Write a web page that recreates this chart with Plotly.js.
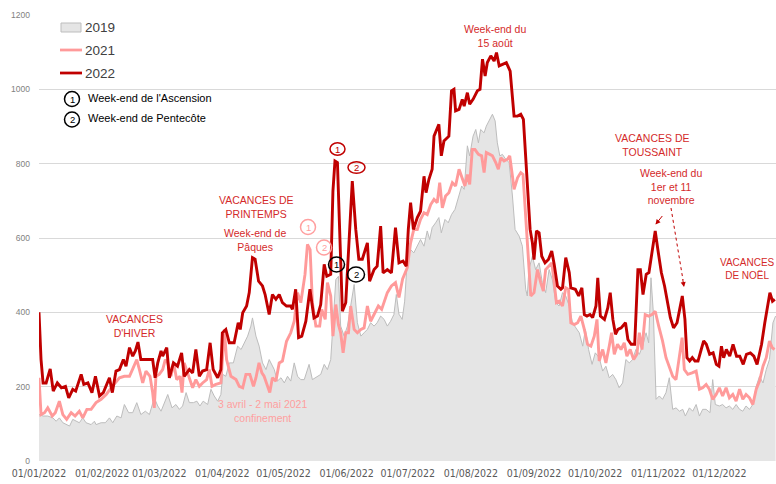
<!DOCTYPE html>
<html>
<head>
<meta charset="utf-8">
<script src="https://cdn.plot.ly/plotly-3.0.1.min.js"></script>
<style>html,body{margin:0;padding:0;background:#fff}#chart{width:776px;height:484px}</style>
</head>
<body>
<div id="chart"></div>
<script>
// [day of year offset from 01/01/2022, value]
const pts2019 = [[0,125],[2,121],[4.3,121],[6.8,116],[8.4,107],[10,116],[11.7,103],[13.6,98],[15,94],[16.6,112],[18.2,107],[19.8,103],[21.5,116],[23.1,103],[25.6,98],[27.2,107],[28,98],[30.5,103],[32.6,103],[34.6,116],[36.2,103],[38.2,121],[40.3,116],[41.9,152],[44,130],[46,130],[48,157],[50,125],[52.2,134],[54.2,125],[56.6,170],[58.3,148],[59.9,134],[61.5,157],[63.2,179],[65.3,143],[67.2,152],[68.9,139],[70.5,148],[72.2,184],[73.8,157],[75.8,157],[77.5,161],[79,148],[80.6,161],[82.8,152],[84.4,193],[86,175],[87.7,161],[89.3,179],[90.2,233],[91.7,228],[93.4,264],[95.4,264],[97.5,309],[99.2,300],[100.8,318],[102.4,336],[104,363],[104.8,385],[106.5,336],[108.1,309],[109.7,264],[111.4,246],[113,273],[115.5,246],[117,215],[118.8,224],[120.4,210],[122,228],[123.6,215],[125.3,264],[126.9,228],[128.5,219],[130.2,219],[132.6,260],[134.2,219],[135.9,224],[138.3,233],[140,260],[141.6,246],[143.2,273],[144.3,363],[145.7,488],[147,497],[148.1,363],[149.8,336],[151.4,363],[153,417],[154.7,475],[156.3,372],[158,336],[159.6,345],[161.2,354],[162.8,372],[164.5,363],[166,372],[167.7,390],[169.4,381],[171,363],[172.6,376],[174.2,394],[175.4,448],[176.7,395],[178.3,381],[179.5,430],[180.8,542],[182.4,569],[184,560],[185.7,578],[187.3,596],[189,578],[190.6,619],[191.8,596],[193,628],[194.7,641],[196.3,655],[197.5,614],[199.3,650],[200.9,641],[202.5,663],[204.2,677],[205.8,708],[207.5,740],[208.7,731],[210.3,848],[211.4,821],[213.1,874],[214.4,892],[215.7,856],[216.8,892],[218.5,883],[219.6,901],[221.3,919],[222.6,933],[223.9,915],[225,856],[226.2,821],[227.5,825],[229.1,812],[230.8,803],[232.4,713],[233.7,623],[235.7,605],[237.3,578],[238.9,462],[239.7,444],[240.5,515],[242.2,551],[243.8,515],[245.5,533],[247.1,480],[248.7,453],[250.4,515],[252,488],[253.7,426],[255.3,417],[257,453],[258.6,444],[260.3,417],[261.9,372],[263.6,358],[265.2,345],[266.9,309],[268.2,354],[269.8,300],[271.5,260],[273.1,291],[275,278],[276.7,242],[278.3,255],[279.9,224],[281.6,233],[283.2,219],[284.8,197],[286.5,210],[288.1,273],[289.8,264],[291.4,273],[293,300],[294.7,287],[296.3,309],[298,345],[299.3,318],[300.4,493],[301.6,399],[302.9,166],[304.5,175],[306.1,166],[307.8,184],[309.4,224],[311.1,139],[312.7,143],[314.4,134],[316,139],[317.3,121],[319.3,143],[320.9,134],[322.6,152],[324.2,121],[325.8,139],[327.5,139],[329.4,130],[330.7,219],[332,152],[334,148],[335.6,152],[337.3,143],[338.9,148],[340.6,139],[342.2,152],[343.9,139],[345.5,134],[347.1,148],[348.8,139],[350.4,152],[352.1,201],[353.7,228],[355.4,210],[357,246],[358.6,273],[360.3,372],[361.6,390]];

const pts2021 = [[0,224],[1,125],[2.7,130],[4.3,143],[6.5,121],[8,130],[10,161],[11.7,125],[13.6,112],[15.8,130],[17.7,121],[19.8,134],[21.5,116],[23.5,139],[25.6,139],[28,157],[30.5,166],[33,179],[35.4,197],[37.5,210],[39.5,224],[41.9,228],[44.4,228],[46.3,251],[48,273],[49.3,246],[50.9,210],[52.5,242],[54.5,228],[55.8,184],[56.6,143],[57.4,228],[59,233],[60.7,246],[62,273],[63.2,264],[64.8,228],[66.1,264],[67.6,219],[69.2,228],[70.2,184],[71.3,264],[73.5,228],[75.4,197],[77,219],[78.7,201],[80.3,210],[82.3,219],[83.6,246],[84.9,201],[86.8,206],[89.3,210],[91,354],[92.1,273],[94.2,228],[96.7,219],[98.3,201],[100,197],[101.6,233],[103.5,233],[105.3,201],[106.5,224],[108,264],[109.4,237],[110.5,228],[112.2,197],[113.3,184],[114.6,224],[116.3,215],[117.9,264],[119.5,269],[121.5,322],[123.6,345],[125.3,376],[126.9,453],[128.5,426],[130.6,502],[131.8,583],[133.1,569],[134.2,426],[135.9,363],[137.8,363],[138.8,408],[140.5,381],[141.6,480],[143.2,444],[144.3,336],[145.7,421],[147,367],[148.1,345],[149.3,291],[150.6,345],[151.9,345],[153,417],[154.7,354],[156.3,345],[158,354],[159.6,358],[161.2,417],[162.8,376],[164.5,394],[166.6,417],[168.2,408],[169.4,426],[171,453],[173,471],[175,480],[176.7,440],[178.5,490],[180.8,520],[182.4,587],[184,623],[185.7,623],[187.3,650],[189,668],[190.6,663],[192.3,690],[193.9,704],[195.5,695],[196.7,749],[198,681],[199.6,713],[201.2,722],[202.9,749],[204.5,740],[206.2,785],[207.5,766],[209.1,740],[210.3,771],[211.4,744],[212.7,838],[214,838],[215.7,825],[217.3,821],[218.5,776],[219.6,830],[221.3,825],[222.6,821],[224.2,803],[225.5,785],[226.7,816],[228.3,807],[230,812],[231.1,821],[232.4,766],[233.2,731],[234.9,762],[236.5,776],[237.6,771],[238.9,659],[240.2,533],[241.4,444],[243,453],[244.7,515],[246.3,480],[247.6,457],[248.7,515],[250.4,524],[251.7,533],[252.9,480],[254,426],[255.3,430],[257,417],[258.6,466],[259.9,462],[261.1,372],[262.8,367],[264.4,372],[266,390],[267.7,354],[269.3,314],[270.9,309],[272.6,336],[273.9,381],[275,269],[276.7,300],[278.3,264],[279.9,309],[281.1,345],[282.4,287],[284,314],[285.7,300],[287.3,318],[288.6,282],[290.2,300],[291.9,273],[293.5,287],[294.7,345],[296,300],[297.6,394],[299.3,390],[300.9,394],[302.5,403],[304.2,363],[306.1,323],[307.8,278],[309.4,255],[311.1,228],[312.7,219],[314.4,287],[315.7,332],[316.8,246],[318.5,233],[320.6,237],[322.6,242],[324.2,193],[325.8,197],[327.5,206],[329.1,193],[330.7,166],[332.4,179],[334,197],[335.6,175],[337.3,197],[338.9,170],[340.6,179],[342.2,161],[343.9,193],[345.5,166],[347.1,179],[348.8,170],[350.4,152],[352.1,193],[353.7,215],[355.4,255],[357,278],[358.6,323],[359.9,305],[361.1,300]];

const pts2022 = [[0,400],[1,273],[2,210],[3.5,210],[5.5,248],[7,188],[9,210],[11,197],[13,201],[14.6,170],[16.6,193],[18,188],[20.7,233],[22,206],[24,210],[26,184],[27.7,228],[29.7,175],[31.6,184],[34.6,224],[36,184],[37.8,242],[39.5,246],[41.4,273],[42.7,255],[44.4,305],[46,282],[47.3,296],[48.6,320],[50,273],[51.7,273],[54,273],[55.8,273],[57,224],[58.3,264],[59.9,296],[60.7,282],[62.7,305],[64,224],[66,264],[68,255],[70,291],[71.3,228],[73.8,246],[75.4,237],[77,300],[78.7,228],[80.3,242],[82.3,246],[84,318],[85.5,246],[87.7,224],[89.3,246],[90,345],[91.7,354],[93.4,318],[95.8,318],[97.8,372],[98.8,354],[100,399],[101.9,417],[103.2,453],[104.8,547],[106.1,543],[107.8,484],[109.7,471],[111,448],[113,394],[114.6,448],[116.3,435],[117.9,448],[119.5,426],[121.5,417],[123.6,417],[124.4,408],[126,462],[127.4,332],[129,336],[131,376],[133,462],[135,385],[136.7,390],[138.3,421],[140,529],[141.3,497],[143.2,502],[144.3,726],[145.3,807],[146.5,803],[147.6,623],[148.9,403],[150.6,426],[151.9,574],[153.8,753],[155.5,623],[157,543],[158.7,543],[161.2,587],[162.3,484],[164.5,515],[166,524],[167.7,632],[168.9,506],[171,515],[173,506],[175,628],[176.7,533],[178.7,538],[180.3,524],[181.3,623],[182.4,695],[183.8,623],[185.7,655],[187.3,672],[189,766],[190,722],[191.4,758],[193,785],[193.9,874],[196.3,906],[197.5,821],[198.8,861],[201.2,874],[202.5,996],[203.7,1000],[204.5,942],[206.2,946],[207.8,973],[208.7,955],[210.3,991],[211.4,960],[213.1,973],[215.2,996],[216.5,1000],[217.7,1081],[219,1036],[220.1,1072],[221.8,1090],[223.4,1076],[224.6,1099],[225.9,1063],[227.5,1067],[229.4,1072],[231.3,1049],[232.4,982],[233.2,928],[234.9,928],[236.5,933],[237.8,919],[239.4,766],[241.1,623],[242.2,587],[243,542],[244.2,619],[245.5,614],[246.8,551],[248.4,533],[250.1,542],[251.7,565],[252.9,529],[254.5,471],[256.2,462],[257,466],[258.6,547],[260.3,507],[261.1,466],[263.3,462],[264.9,444],[266.5,466],[267.7,394],[269,390],[270.5,394],[271.8,386],[273.4,417],[274.3,493],[275.6,390],[277.6,381],[279.2,412],[280.4,453],[281.7,381],[283,341],[284.2,354],[285.8,358],[287.9,372],[289.1,327],[290.7,314],[292.4,314],[294,515],[295.2,515],[296.5,448],[298.1,502],[299.4,507],[300.9,565],[302.5,619],[303.8,569],[305.5,507],[307.1,471],[308.7,417],[309.9,386],[311.5,358],[313.2,372],[314.5,408],[315.8,444],[317.1,381],[318.1,278],[319.4,269],[320.7,278],[322,269],[323.5,269],[325.1,300],[326.3,323],[327.6,314],[329.2,287],[330.9,291],[332.5,260],[333.8,255],[335,309],[336.1,278],[337.4,300],[339.1,282],[340.7,314],[342.4,282],[344,282],[345.7,260],[347.3,287],[349.2,291],[350.9,282],[352.5,260],[354.7,314],[356.3,372],[358.8,453],[360.1,430],[361.2,435]];

const seriesNames = ['2019', '2021', '2022'];
const yTicks = [0, 200, 400, 600, 800, 1000, 1200];
const monthTicks = ['2022-01-01','2022-02-01','2022-03-01','2022-04-01','2022-05-01','2022-06-01','2022-07-01','2022-08-01','2022-09-01','2022-10-01','2022-11-01','2022-12-01'];
const monthLabels = ['01/01/2022','01/02/2022','01/03/2022','01/04/2022','01/05/2022','01/06/2022','01/07/2022','01/08/2022','01/09/2022','01/10/2022','01/11/2022','01/12/2022'];

function pad(n){return (n<10?'0':'')+n;}
function dayToDate(d){
  const t = new Date(Date.UTC(2022,0,1) + Math.round(d*24)*3600000);
  return t.getUTCFullYear()+'-'+pad(t.getUTCMonth()+1)+'-'+pad(t.getUTCDate())+' '+pad(t.getUTCHours())+':00';
}
const xs = p => p.map(a => dayToDate(a[0]));
const ys = p => p.map(a => a[1]);

const traces = [
  {x: xs(pts2019), y: ys(pts2019), name: seriesNames[0], type:'scatter', mode:'lines', fill:'tozeroy', fillcolor:'#e5e5e5', line:{color:'#bdbdbd', width:1}},
  {x: xs(pts2021), y: ys(pts2021), name: seriesNames[1], type:'scatter', mode:'lines', line:{color:'#ff9a9a', width:2.9}},
  {x: xs(pts2022), y: ys(pts2022), name: seriesNames[2], type:'scatter', mode:'lines', line:{color:'#c00000', width:2.9}}
];

// pixel -> paper helpers (plot area: x 39..776, y 15..461)
const L=39, R=776, T=15, B=461;
const PX = x => (x-L)/(R-L);
const PY = y => (B-y)/(B-T);

const RED = '#d42a2a', PINK='#ff9f9f';
const FONT = 'Liberation Sans, Arial, sans-serif';
const ann = [];
const shapes = [];
function txt(text, x, y, color, size, anchor){
  ann.push({text:text, xref:'paper', yref:'paper', x:PX(x), y:PY(y), xanchor:anchor||'center', yanchor:'middle', showarrow:false, font:{family:FONT, size:size, color:color}});
}
function circ(cx, cy, w, h, color, label){
  shapes.push({type:'circle', xref:'paper', yref:'paper', x0:PX(cx-w/2), x1:PX(cx+w/2), y0:PY(cy+h/2), y1:PY(cy-h/2), line:{color:color, width:1.5}});
  txt(label, cx, cy, color, 9.5);
}

// legend
shapes.push({type:'rect', xref:'paper', yref:'paper', x0:PX(61), x1:PX(81), y0:PY(32), y1:PY(23), fillcolor:'#e5e5e5', line:{color:'#bdbdbd', width:1}});
shapes.push({type:'line', xref:'paper', yref:'paper', x0:PX(60), x1:PX(82), y0:PY(50), y1:PY(50), line:{color:'#ff9a9a', width:2.75}});
shapes.push({type:'line', xref:'paper', yref:'paper', x0:PX(60), x1:PX(82), y0:PY(73), y1:PY(73), line:{color:'#c00000', width:2.75}});
txt(seriesNames[0], 83, 27.5, '#404040', 13.5, 'left');
txt(seriesNames[1], 83, 50.5, '#404040', 13.5, 'left');
txt(seriesNames[2], 83, 73.5, '#404040', 13.5, 'left');
circ(72, 99, 15, 15, '#000000', '1');
circ(72, 119.5, 15, 15, '#000000', '2');
txt("Week-end de l'Ascension", 86, 97.5, '#000000', 11, 'left');
txt('Week-end de Pentecôte', 86, 118.5, '#000000', 11, 'left');

// chart annotations
txt('VACANCES<br>D\'HIVER', 134, 326, RED, 10.5);
txt('VACANCES DE<br>PRINTEMPS', 256, 207, RED, 10.5);
txt('Week-end de<br>Pâques', 255, 240, RED, 10.5);
txt('3 avril - 2 mai 2021<br>confinement', 262, 411, PINK, 10.5);
txt('Week-end du<br>15 août', 495, 36, RED, 10.5);
txt('VACANCES DE<br>TOUSSAINT', 652, 144.5, RED, 10.5);
txt('Week-end du<br>1er et 11<br>novembre', 671, 186.5, RED, 10.5);
txt('VACANCES<br>DE NOËL', 747, 269, RED, 10);

circ(337.5, 149, 15, 12.5, '#c00000', '1');
circ(356.5, 167.5, 17, 11.5, '#c00000', '2');
circ(308, 227, 15, 15, PINK, '1');
circ(324, 247.5, 15, 15, PINK, '2');
circ(336.5, 264.5, 16, 15, '#000000', '1');
circ(356, 274.5, 17, 15, '#000000', '2');

// arrows
ann.push({text:'', xref:'paper', yref:'paper', x:PX(655.5), y:PY(224.5), ax:8, ay:-10, showarrow:true, arrowhead:2, arrowsize:1, arrowwidth:1, arrowcolor:'#c00000'});
shapes.push({type:'line', xref:'paper', yref:'paper', x0:PX(671), y0:PY(208), x1:PX(683), y1:PY(280), line:{color:'#c00000', width:1, dash:'dot'}});
ann.push({text:'', xref:'paper', yref:'paper', x:PX(684), y:PY(287), ax:-1.5, ay:-9, showarrow:true, arrowhead:2, arrowsize:1, arrowwidth:1, arrowcolor:'#c00000'});

const layout = {
  width:776, height:484,
  margin:{l:L, r:776-R, t:T, b:484-B, pad:0},
  paper_bgcolor:'#ffffff', plot_bgcolor:'#ffffff',
  showlegend:false,
  xaxis:{type:'date', range:[dayToDate(0), dayToDate(361.8)], tickvals:monthTicks, ticktext:monthLabels,
         showgrid:false, zeroline:false, showline:false, ticks:'', ticklabelstandoff:4,
         tickfont:{family:'Liberation Sans Narrow, DejaVu Sans Condensed, Arial Narrow, sans-serif', size:10.5, color:'#595959'}},
  yaxis:{range:[0,1200], tickvals:yTicks, showgrid:true, gridcolor:'#d9d9d9', gridwidth:1, zeroline:false, showline:false,
         ticks:'', ticklabelstandoff:8, tickfont:{family:FONT, size:8.5, color:'#7f7f7f'}},
  annotations: ann,
  shapes: shapes
};
Plotly.newPlot('chart', traces, layout, {displayModeBar:false, staticPlot:true});
</script>
</body>
</html>
